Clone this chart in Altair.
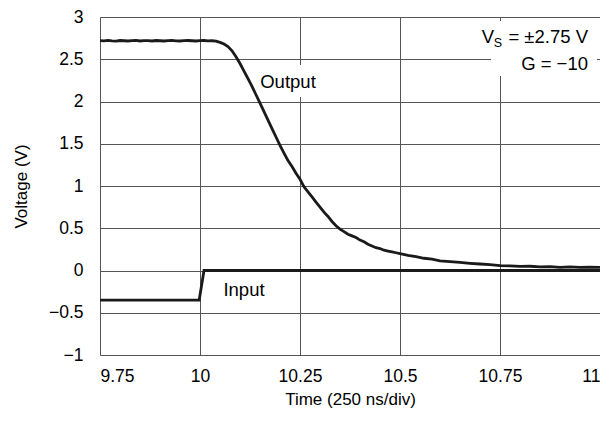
import altair as alt
import pandas as pd

# ---- data ----
out_t = [9.75, 9.76, 9.77, 9.78, 9.79, 9.80, 9.81, 9.82, 9.83, 9.84, 9.85, 9.86, 9.87, 9.88,
         9.89, 9.90, 9.91, 9.92, 9.93, 9.94, 9.95, 9.96, 9.97, 9.98, 9.99, 10.00, 10.01, 10.02,
         10.03, 10.04, 10.05, 10.06, 10.07, 10.08, 10.09, 10.10, 10.11, 10.12, 10.13, 10.14,
         10.15, 10.16, 10.17, 10.18, 10.19, 10.20, 10.21, 10.22, 10.23, 10.24, 10.25, 10.26,
         10.27, 10.28, 10.29, 10.30, 10.31, 10.32, 10.33, 10.34, 10.35, 10.36, 10.37, 10.38,
         10.39, 10.40, 10.41, 10.42, 10.43, 10.44, 10.45, 10.46, 10.47, 10.48, 10.49, 10.50,
         10.52, 10.54, 10.56, 10.58, 10.60, 10.625, 10.65, 10.675, 10.70, 10.725, 10.75,
         10.775, 10.80, 10.825, 10.85, 10.875, 10.90, 10.925, 10.95, 10.975, 11.00]
out_v = [2.72, 2.717, 2.723, 2.718, 2.715, 2.722, 2.719, 2.716, 2.72, 2.723, 2.716, 2.72, 2.721, 2.716,
         2.722, 2.719, 2.716, 2.721, 2.723, 2.718, 2.716, 2.72, 2.722, 2.719, 2.716, 2.72, 2.722, 2.718,
         2.719, 2.715, 2.70, 2.68, 2.65, 2.60, 2.53, 2.45, 2.36, 2.27, 2.18, 2.08,
         1.98, 1.88, 1.78, 1.68, 1.58, 1.48, 1.39, 1.30, 1.23, 1.15, 1.08, 0.99,
         0.93, 0.87, 0.81, 0.75, 0.69, 0.64, 0.58, 0.53, 0.49, 0.46, 0.43, 0.41,
         0.39, 0.36, 0.34, 0.31, 0.29, 0.27, 0.26, 0.24, 0.23, 0.22, 0.21, 0.20,
         0.18, 0.165, 0.145, 0.135, 0.115, 0.105, 0.095, 0.085, 0.077, 0.07, 0.058,
         0.055, 0.048, 0.05, 0.043, 0.045, 0.038, 0.042, 0.036, 0.04, 0.036]

in_t = [9.75, 9.998, 10.01, 11.0]
in_v = [-0.35, -0.35, 0.0, 0.0]

x_ticks = [9.75, 10, 10.25, 10.5, 10.75, 11]
y_ticks = [-1, -0.5, 0, 0.5, 1, 1.5, 2, 2.5, 3]

FONT = "Liberation Sans"
LBL = "replace(toString(datum.value), '-', '\u2212')"

out_df = pd.DataFrame({"t": out_t, "v": out_v})
in_df = pd.DataFrame({"t": in_t, "v": in_v})
one = pd.DataFrame({"a": [0]})

xs = alt.Scale(domain=[9.75, 11], nice=False, zero=False)
ys = alt.Scale(domain=[-1, 3], nice=False, zero=False)

xax = alt.Axis(values=x_ticks, labelExpr=LBL, title="Time (250 ns/div)", grid=True,
               gridColor="#555555", gridWidth=1, domain=False, ticks=False,
               labelFontSize=17.5, titleFontSize=17, labelPadding=12, titlePadding=7,
               labelColor="black", titleColor="black", titleFontWeight="normal",
               labelFont=FONT, titleFont=FONT)
yax = alt.Axis(values=y_ticks, labelExpr=LBL, title="Voltage (V)", grid=True,
               gridColor="#555555", gridWidth=1, domain=False, ticks=False,
               labelFontSize=17.5, titleFontSize=17, labelPadding=17, titlePadding=18,
               labelColor="black", titleColor="black", titleFontWeight="normal",
               labelFont=FONT, titleFont=FONT)

box_vs = alt.Chart(one).mark_rect(color="white").encode(
    x=alt.value(391), x2=alt.value(497), y=alt.value(4), y2=alt.value(59))
box_out = alt.Chart(one).mark_rect(color="white").encode(
    x=alt.value(157), x2=alt.value(220), y=alt.value(48), y2=alt.value(80))

output_line = alt.Chart(out_df).mark_line(color="#1a1a1a", strokeWidth=2.8).encode(
    x=alt.X("t:Q", scale=xs, axis=xax),
    y=alt.Y("v:Q", scale=ys, axis=yax),
)
input_line = alt.Chart(in_df).mark_line(color="#1a1a1a", strokeWidth=2.8).encode(
    x=alt.X("t:Q", scale=xs),
    y=alt.Y("v:Q", scale=ys),
)

def txt(s, x, y, size=18.5, align="right", baseline="alphabetic"):
    return alt.Chart(one).mark_text(font=FONT, fontSize=size, align=align,
                                    baseline=baseline, color="black").encode(
        x=alt.value(x), y=alt.value(y), text=alt.value(s))

t_vs = txt("= \u00b12.75 V", 488, 25.5)
t_s = txt("S", 402, 29.5, size=12.5)
t_v = txt("V", 394, 25.5)
t_g = txt("G = \u221210", 488, 53)
t_out = txt("Output", 188, 65, align="center", baseline="middle")
t_in = txt("Input", 144, 273, align="center", baseline="middle")

chart = alt.layer(box_vs, box_out, output_line, input_line,
                  t_vs, t_s, t_v, t_g, t_out, t_in).properties(
    width=500, height=338,
    autosize=alt.AutoSizeParams(type="none"),
    padding={"left": 92, "top": 9, "right": 0, "bottom": 58},
).configure_view(stroke="black", strokeWidth=2.5).configure(background="white")

chart.save("out.html", embed_options={"renderer": "svg", "actions": False})
